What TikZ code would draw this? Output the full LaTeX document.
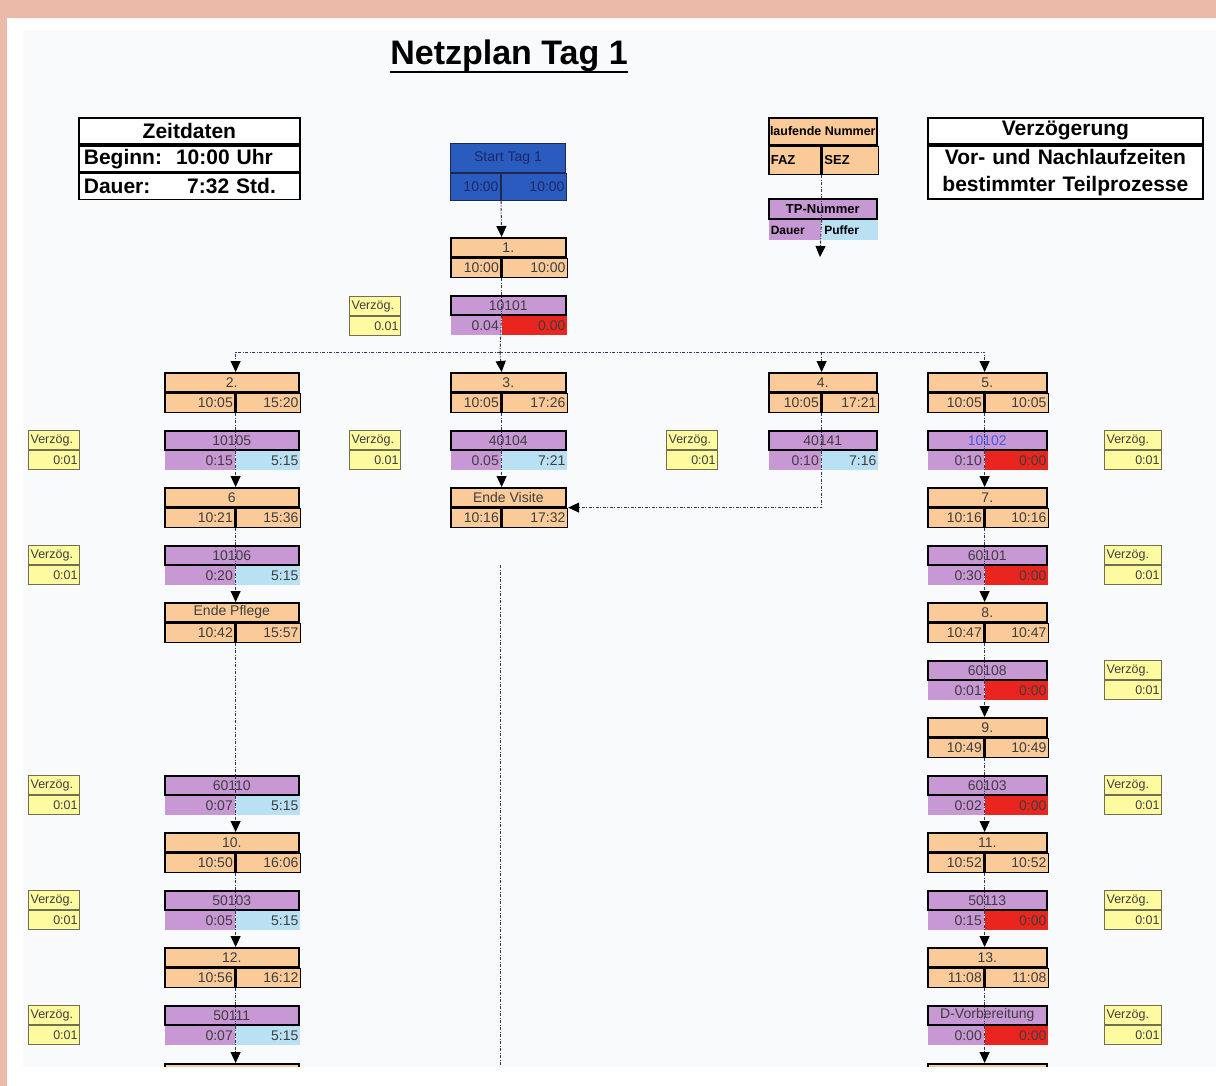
\documentclass[tikz,border=0pt]{standalone}
\usepackage{fontspec}
\setmainfont{Liberation Sans}
\usepackage{tikz}
\usetikzlibrary{arrows.meta,positioning}
\definecolor{evOrange}{RGB}{250,202,152}
\definecolor{actPurple}{RGB}{200,152,212}
\definecolor{pufferBlue}{RGB}{186,224,244}
\definecolor{critRed}{RGB}{234,36,30}
\definecolor{startBlue}{RGB}{42,92,192}
\definecolor{startFrame}{RGB}{30,40,80}
\definecolor{startText}{RGB}{30,40,100}
\definecolor{vzYellow}{RGB}{254,250,160}
\definecolor{vzFrame}{RGB}{110,112,80}
\definecolor{cellGray}{RGB}{62,62,62}
\definecolor{linkGray}{RGB}{45,55,95}
\definecolor{tpBlue}{RGB}{70,90,225}
\definecolor{sheetBg}{RGB}{249,250,252}
\definecolor{frameRose}{RGB}{236,186,168}

\begin{document}
\begin{tikzpicture}[x=1pt,y=-1pt,
  evhead/.style={rectangle,draw=black,line width=1.6pt,fill=evOrange,minimum height=19pt,
                 inner sep=0pt,anchor=north west,font=\fontsize{14}{16}\selectfont,text=cellGray},
  evcell/.style={rectangle,draw=black,line width=1.6pt,fill=evOrange,minimum height=19pt,
                 inner xsep=2pt,inner ysep=0pt,align=right,font=\fontsize{14}{16}\selectfont,text=cellGray},
  acthead/.style={evhead,fill=actPurple},
  actcell/.style={evcell,draw=none,fill=actPurple},
  puffer/.style={actcell,fill=pufferBlue},
  critcell/.style={actcell,fill=critRed},
  starthead/.style={evhead,draw=startFrame,line width=1pt,fill=startBlue,minimum height=29pt,text=startText},
  startcell/.style={evcell,draw=startFrame,line width=1pt,fill=startBlue,minimum height=27pt,text=startText},
  vzbase/.style={rectangle,draw=vzFrame,line width=1.2pt,fill=vzYellow,minimum height=19pt,
                 inner xsep=2pt,inner ysep=0pt,font=\fontsize{12.5}{14}\selectfont,text=cellGray},
  vzhead/.style={vzbase,anchor=north west,align=left},
  vzcell/.style={vzbase,align=right},
  infobox/.style={rectangle,draw=black,line width=1.8pt,fill=white,minimum height=26pt,
                  inner xsep=5pt,inner ysep=0pt,anchor=north west,font=\fontsize{21}{27}\selectfont\bfseries},
  legtext/.style={font=\fontsize{13}{15}\selectfont\bfseries,text=black},
  wA/.style={minimum width=134pt}, lA/.style={text width=66pt}, rA/.style={text width=60pt},
  wB/.style={minimum width=115pt}, lB/.style={text width=46pt}, rB/.style={text width=61pt},
  wC/.style={minimum width=108pt}, lC/.style={text width=48pt}, rC/.style={text width=52pt},
  wD/.style={minimum width=119pt}, lD/.style={text width=52pt}, rD/.style={text width=59pt},
  vzS/.style={text width=47pt}, vzL/.style={text width=53pt},
  link/.style={draw=linkGray,line width=1pt,dash pattern=on 3pt off 1.5pt on 1pt off 1.5pt},
  arr/.style={link,-{Triangle[length=11pt,width=10pt,color=black]}}
]
  \useasboundingbox (0,0) rectangle (1216,1086);
  \fill[frameRose] (0,0) rectangle (1216,1086);
  \fill[white] (7,18) rectangle (1216,1086);
  \fill[sheetBg] (23,30) rectangle (1216,1067);

  \node[font=\fontsize{34}{40}\selectfont\bfseries,inner sep=0pt] (title) at (509,56) {Netzplan Tag 1};
  \draw[line width=2.5pt] (title.south west) -- (title.south east);

  \node[infobox,minimum width=221pt] (zdHead) at (78,117) {Zeitdaten};
  \node[infobox,text width=211pt,align=left,below right=0pt of zdHead.south west] (zdBeg) {Beginn:\hfill 10:00 Uhr\hspace*{22pt}\mbox{}};
  \node[infobox,text width=211pt,align=left,below right=0pt of zdBeg.south west] (zdDau) {Dauer:\hfill 7:32 Std.\hspace*{19pt}\mbox{}};

  \node[infobox,minimum width=275pt] (vzgHead) at (927,117) {Verzögerung};
  \node[infobox,text width=265pt,minimum height=53pt,align=center,below right=0pt of vzgHead.south west] (vzgText) {Vor- und Nachlaufzeiten\\bestimmter Teilprozesse};

  \node[evhead,wC,minimum height=27pt,legtext,font=\fontsize{12.5}{14}\selectfont\bfseries] (lgNum) at (768,117) {laufende Nummer};
  \node[evcell,lC,minimum height=28pt,align=left,legtext,below right=0pt of lgNum.south west] (lgFAZ) {FAZ};
  \node[evcell,rC,minimum height=28pt,align=left,legtext,right=0pt of lgFAZ] (lgSEZ) {SEZ};
  \node[acthead,wC,minimum height=20pt,legtext] (lgTP) at (768,198) {TP-Nummer};
  \node[actcell,lC,minimum height=20pt,align=left,legtext,font=\fontsize{12}{14}\selectfont\bfseries,below right=0pt of lgTP.south west] (lgDauer) {Dauer};
  \node[puffer,rC,minimum height=20pt,align=left,legtext,font=\fontsize{12}{14}\selectfont\bfseries,right=0pt of lgDauer] (lgPuffer) {Puffer};
  \coordinate (lgEnd) at (820,257);

  \node[starthead,wB] (sT) at (450,143) {Start Tag 1};
  \node[startcell,lB,below right=0pt of sT.south west] (sTl) {10:00};
  \node[startcell,rB,right=0pt of sTl] (sTr) {10:00};

  \node[evhead,wB] (e1) at (450,237) {1.};
  \node[evcell,lB,below right=0pt of e1.south west] (e1l) {10:00};
  \node[evcell,rB,right=0pt of e1l] (e1r) {10:00};
  \node[acthead,wB] (a10101) at (450,295) {10101};
  \node[actcell,lB,below right=0pt of a10101.south west] (a10101l) {0.04};
  \node[critcell,rB,right=0pt of a10101l] (a10101r) {0.00};
  \coordinate (fork) at (500,352);

  \node[evhead,wA] (e2) at (164,372) {2.};
  \node[evcell,lA,below right=0pt of e2.south west] (e2l) {10:05};
  \node[evcell,rA,right=0pt of e2l] (e2r) {15:20};
  \node[evhead,wB] (e3) at (450,372) {3.};
  \node[evcell,lB,below right=0pt of e3.south west] (e3l) {10:05};
  \node[evcell,rB,right=0pt of e3l] (e3r) {17:26};
  \node[evhead,wC] (e4) at (768,372) {4.};
  \node[evcell,lC,below right=0pt of e4.south west] (e4l) {10:05};
  \node[evcell,rC,right=0pt of e4l] (e4r) {17:21};
  \node[evhead,wD] (e5) at (927,372) {5.};
  \node[evcell,lD,below right=0pt of e5.south west] (e5l) {10:05};
  \node[evcell,rD,right=0pt of e5l] (e5r) {10:05};

  \node[acthead,wA] (a10105) at (164,430) {10105};
  \node[actcell,lA,below right=0pt of a10105.south west] (a10105l) {0:15};
  \node[puffer,rA,right=0pt of a10105l] (a10105r) {5:15};
  \node[acthead,wB] (a40104) at (450,430) {40104};
  \node[actcell,lB,below right=0pt of a40104.south west] (a40104l) {0.05};
  \node[puffer,rB,right=0pt of a40104l] (a40104r) {7:21};
  \node[acthead,wC] (a40141) at (768,430) {40141};
  \node[actcell,lC,below right=0pt of a40141.south west] (a40141l) {0:10};
  \node[puffer,rC,right=0pt of a40141l] (a40141r) {7:16};
  \node[acthead,wD,text=tpBlue] (a10102) at (927,430) {10102};
  \node[actcell,lD,below right=0pt of a10102.south west] (a10102l) {0:10};
  \node[critcell,rD,right=0pt of a10102l] (a10102r) {0:00};

  \node[evhead,wA] (e6) at (164,487) {6};
  \node[evcell,lA,below right=0pt of e6.south west] (e6l) {10:21};
  \node[evcell,rA,right=0pt of e6l] (e6r) {15:36};
  \node[evhead,wB] (eEV) at (450,487) {Ende Visite};
  \node[evcell,lB,below right=0pt of eEV.south west] (eEVl) {10:16};
  \node[evcell,rB,right=0pt of eEVl] (eEVr) {17:32};
  \node[evhead,wD] (e7) at (927,487) {7.};
  \node[evcell,lD,below right=0pt of e7.south west] (e7l) {10:16};
  \node[evcell,rD,right=0pt of e7l] (e7r) {10:16};

  \node[acthead,wA] (a10106) at (164,545) {10106};
  \node[actcell,lA,below right=0pt of a10106.south west] (a10106l) {0:20};
  \node[puffer,rA,right=0pt of a10106l] (a10106r) {5:15};
  \node[acthead,wD] (a60101) at (927,545) {60101};
  \node[actcell,lD,below right=0pt of a60101.south west] (a60101l) {0:30};
  \node[critcell,rD,right=0pt of a60101l] (a60101r) {0:00};

  \node[evhead,wA] (eEP) at (164,602) {Ende Pflege};
  \node[evcell,lA,below right=0pt of eEP.south west] (eEPl) {10:42};
  \node[evcell,rA,right=0pt of eEPl] (eEPr) {15:57};
  \node[evhead,wD] (e8) at (927,602) {8.};
  \node[evcell,lD,below right=0pt of e8.south west] (e8l) {10:47};
  \node[evcell,rD,right=0pt of e8l] (e8r) {10:47};

  \node[acthead,wD] (a60108) at (927,660) {60108};
  \node[actcell,lD,below right=0pt of a60108.south west] (a60108l) {0:01};
  \node[critcell,rD,right=0pt of a60108l] (a60108r) {0:00};
  \node[evhead,wD] (e9) at (927,717) {9.};
  \node[evcell,lD,below right=0pt of e9.south west] (e9l) {10:49};
  \node[evcell,rD,right=0pt of e9l] (e9r) {10:49};

  \node[acthead,wA] (a60110) at (164,775) {60110};
  \node[actcell,lA,below right=0pt of a60110.south west] (a60110l) {0:07};
  \node[puffer,rA,right=0pt of a60110l] (a60110r) {5:15};
  \node[acthead,wD] (a60103) at (927,775) {60103};
  \node[actcell,lD,below right=0pt of a60103.south west] (a60103l) {0:02};
  \node[critcell,rD,right=0pt of a60103l] (a60103r) {0:00};

  \node[evhead,wA] (e10) at (164,832) {10.};
  \node[evcell,lA,below right=0pt of e10.south west] (e10l) {10:50};
  \node[evcell,rA,right=0pt of e10l] (e10r) {16:06};
  \node[evhead,wD] (e11) at (927,832) {11.};
  \node[evcell,lD,below right=0pt of e11.south west] (e11l) {10:52};
  \node[evcell,rD,right=0pt of e11l] (e11r) {10:52};

  \node[acthead,wA] (a50103) at (164,890) {50103};
  \node[actcell,lA,below right=0pt of a50103.south west] (a50103l) {0:05};
  \node[puffer,rA,right=0pt of a50103l] (a50103r) {5:15};
  \node[acthead,wD] (a50113) at (927,890) {50113};
  \node[actcell,lD,below right=0pt of a50113.south west] (a50113l) {0:15};
  \node[critcell,rD,right=0pt of a50113l] (a50113r) {0:00};

  \node[evhead,wA] (e12) at (164,947) {12.};
  \node[evcell,lA,below right=0pt of e12.south west] (e12l) {10:56};
  \node[evcell,rA,right=0pt of e12l] (e12r) {16:12};
  \node[evhead,wD] (e13) at (927,947) {13.};
  \node[evcell,lD,below right=0pt of e13.south west] (e13l) {11:08};
  \node[evcell,rD,right=0pt of e13l] (e13r) {11:08};

  \node[acthead,wA] (a50111) at (164,1005) {50111};
  \node[actcell,lA,below right=0pt of a50111.south west] (a50111l) {0:07};
  \node[puffer,rA,right=0pt of a50111l] (a50111r) {5:15};
  \node[acthead,wD] (aDV) at (927,1005) {D-Vorbereitung};
  \node[actcell,lD,below right=0pt of aDV.south west] (aDVl) {0:00};
  \node[critcell,rD,right=0pt of aDVl] (aDVr) {0:00};

  \node[evhead,wA] (eA14) at (164,1063) {};
  \node[evhead,wD] (eD14) at (927,1063) {};

  \node[vzhead,vzS] (vz1) at (349,296) {Verzög.};
  \node[vzcell,vzS,below=0pt of vz1] (vz1t) {0.01};
  \node[vzhead,vzS] (vzA1) at (28,430) {Verzög.};
  \node[vzcell,vzS,below=0pt of vzA1] (vzA1t) {0:01};
  \node[vzhead,vzS] (vzB1) at (349,430) {Verzög.};
  \node[vzcell,vzS,below=0pt of vzB1] (vzB1t) {0.01};
  \node[vzhead,vzS] (vzC1) at (666,430) {Verzög.};
  \node[vzcell,vzS,below=0pt of vzC1] (vzC1t) {0:01};
  \node[vzhead,vzL] (vzD1) at (1104,430) {Verzög.};
  \node[vzcell,vzL,below=0pt of vzD1] (vzD1t) {0:01};
  \node[vzhead,vzS] (vzA3) at (28,545) {Verzög.};
  \node[vzcell,vzS,below=0pt of vzA3] (vzA3t) {0:01};
  \node[vzhead,vzL] (vzD3) at (1104,545) {Verzög.};
  \node[vzcell,vzL,below=0pt of vzD3] (vzD3t) {0:01};
  \node[vzhead,vzL] (vzD5) at (1104,660) {Verzög.};
  \node[vzcell,vzL,below=0pt of vzD5] (vzD5t) {0:01};
  \node[vzhead,vzS] (vzA7) at (28,775) {Verzög.};
  \node[vzcell,vzS,below=0pt of vzA7] (vzA7t) {0:01};
  \node[vzhead,vzL] (vzD7) at (1104,775) {Verzög.};
  \node[vzcell,vzL,below=0pt of vzD7] (vzD7t) {0:01};
  \node[vzhead,vzS] (vzA9) at (28,890) {Verzög.};
  \node[vzcell,vzS,below=0pt of vzA9] (vzA9t) {0:01};
  \node[vzhead,vzL] (vzD9) at (1104,890) {Verzög.};
  \node[vzcell,vzL,below=0pt of vzD9] (vzD9t) {0:01};
  \node[vzhead,vzS] (vzA11) at (28,1005) {Verzög.};
  \node[vzcell,vzS,below=0pt of vzA11] (vzA11t) {0:01};
  \node[vzhead,vzL] (vzD11) at (1104,1005) {Verzög.};
  \node[vzcell,vzL,below=0pt of vzD11] (vzD11t) {0:01};

  \coordinate (vTop) at (500,565);
  \coordinate (vBot) at (500,1067);

  \draw[link] (lgFAZ.south east) -- (lgDauer.north east);
  \draw[arr] (lgDauer.north east) -- (lgEnd);
  \draw[arr] (sTl.south east) -- (e1l.east |- e1.north);
  \draw[link] (e1l.south east) -- (a10101l.north east);
  \draw[link] (a10101l.north east) -- (fork);
  \draw[arr] (fork) -| (e2l.east |- e2.north);
  \draw[arr] (fork) -- (e3l.east |- e3.north);
  \draw[arr] (fork) -| (e4l.east |- e4.north);
  \draw[arr] (fork) -| (e5l.east |- e5.north);

  \draw[link] (e2l.south east) -- (a10105l.north east);
  \draw[arr] (a10105l.north east) -- (e6l.east |- e6.north);
  \draw[link] (e6l.south east) -- (a10106l.north east);
  \draw[arr] (a10106l.north east) -- (eEPl.east |- eEP.north);
  \draw[link] (eEPl.south east) -- (a60110l.north east);
  \draw[arr] (a60110l.north east) -- (e10l.east |- e10.north);
  \draw[link] (e10l.south east) -- (a50103l.north east);
  \draw[arr] (a50103l.north east) -- (e12l.east |- e12.north);
  \draw[link] (e12l.south east) -- (a50111l.north east);
  \draw[arr] (a50111l.north east) -- (a50111l.east |- eA14.north);

  \draw[link] (e3l.south east) -- (a40104l.north east);
  \draw[arr] (a40104l.north east) -- (eEVl.east |- eEV.north);
  \draw[link] (e4l.south east) -- (a40141l.north east);
  \draw[arr] (a40141l.north east) |- (eEVr.north east);
  \draw[link] (vTop) -- (vBot);

  \draw[link] (e5l.south east) -- (a10102l.north east);
  \draw[arr] (a10102l.north east) -- (e7l.east |- e7.north);
  \draw[link] (e7l.south east) -- (a60101l.north east);
  \draw[arr] (a60101l.north east) -- (e8l.east |- e8.north);
  \draw[link] (e8l.south east) -- (a60108l.north east);
  \draw[arr] (a60108l.north east) -- (e9l.east |- e9.north);
  \draw[link] (e9l.south east) -- (a60103l.north east);
  \draw[arr] (a60103l.north east) -- (e11l.east |- e11.north);
  \draw[link] (e11l.south east) -- (a50113l.north east);
  \draw[arr] (a50113l.north east) -- (e13l.east |- e13.north);
  \draw[link] (e13l.south east) -- (aDVl.north east);
  \draw[arr] (aDVl.north east) -- (aDVl.east |- eD14.north);

  \fill[white] (7,1067) rectangle (1216,1086);
\end{tikzpicture}
\end{document}
